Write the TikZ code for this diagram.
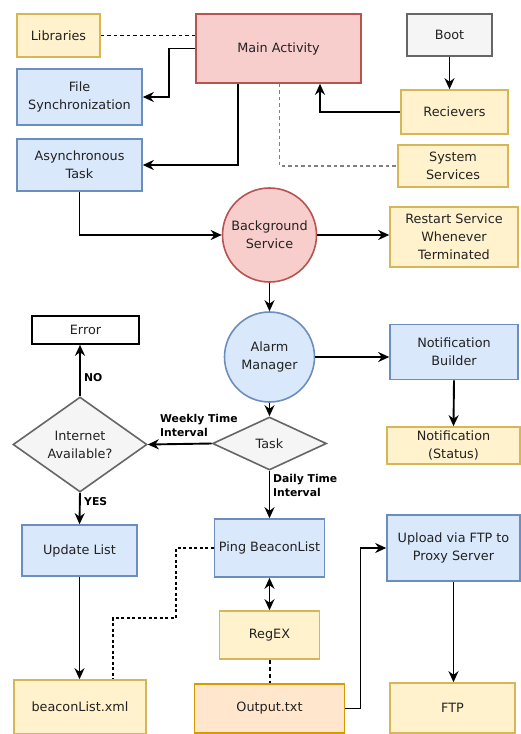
\documentclass[tikz,border=0pt]{standalone}
\usepackage{fontspec}
\setmainfont{DejaVu Sans}
\usetikzlibrary{arrows.meta,shapes.geometric}
\definecolor{ylwF}{HTML}{FFF2CC}\definecolor{ylwD}{HTML}{D6B656}
\definecolor{bluF}{HTML}{DAE8FC}\definecolor{bluD}{HTML}{6C8EBF}
\definecolor{redF}{HTML}{F8CECC}\definecolor{redD}{HTML}{B85450}
\definecolor{gryF}{HTML}{F5F5F5}\definecolor{gryD}{HTML}{666666}
\definecolor{orgF}{HTML}{FFE6CC}\definecolor{orgD}{HTML}{D79B00}
\definecolor{txt}{HTML}{222222}
\tikzset{
  base/.style={draw, line width=1.6pt, align=center, inner sep=0pt, text=txt, font=\fontsize{12.8}{18}\selectfont},
  ybox/.style={base, fill=ylwF, draw=ylwD},
  bbox/.style={base, fill=bluF, draw=bluD},
  rbox/.style={base, fill=redF, draw=redD},
  gbox/.style={base, fill=gryF, draw=gryD},
  obox/.style={base, fill=orgF, draw=orgD},
  wbox/.style={base, fill=white, draw=black},
  dia/.style={base, diamond, fill=gryF, draw=gryD},
  arr/.style={-{Stealth[length=11pt,width=10pt]}, line width=1.9pt},
  lbl/.style={font=\bfseries\fontsize{10.8}{14}\selectfont, align=left, inner sep=0pt},
}
\begin{document}
\begin{tikzpicture}[x=1pt,y=-1pt]
\useasboundingbox[fill=white] (0,0) rectangle (521,734);
% nodes
\node[ybox, minimum width=83, minimum height=43] (lib) at (58.5,35.5) {Libraries};
\node[rbox, minimum width=165, minimum height=69] (main) at (278.5,48.5) {Main Activity};
\node[gbox, minimum width=85, minimum height=42] (boot) at (449.5,35) {Boot};
\node[bbox, minimum width=125, minimum height=56] (fsync) at (79.5,97) {File\\Synchronization};
\node[ybox, minimum width=107, minimum height=44] (recv) at (454.5,112) {Recievers};
\node[bbox, minimum width=125, minimum height=52] (async) at (79.5,165) {Asynchronous\\Task};
\node[ybox, minimum width=110, minimum height=42] (sys) at (453,166) {System\\Services};
\node[rbox, circle, minimum size=94] (bg) at (269.5,235) {Background\\Service};
\node[ybox, minimum width=128, minimum height=60] (restart) at (454,237) {Restart Service\\Whenever\\Terminated};
\node[bbox, circle, minimum size=90] (alarm) at (269.5,357) {Alarm\\Manager};
\node[wbox, minimum width=107, minimum height=28] (error) at (85.5,330) {Error};
\node[bbox, minimum width=128, minimum height=55] (nbuild) at (454,352) {Notification\\Builder};
\node[dia, minimum width=114, minimum height=53] (task) at (269.5,443.5) {Task};
\node[dia, minimum width=134, minimum height=95] (internet) at (80,444.5) {Internet\\Available?};
\node[ybox, minimum width=133, minimum height=37] (nstatus) at (453.5,445.5) {Notification\\(Status)};
\node[bbox, minimum width=115, minimum height=51] (update) at (79.5,550.5) {Update List};
\node[bbox, minimum width=110, minimum height=58] (ping) at (269.5,548) {Ping BeaconList};
\node[bbox, minimum width=133, minimum height=66] (upload) at (453.5,548) {Upload via FTP to\\Proxy Server};
\node[ybox, minimum width=100, minimum height=48] (regex) at (269.5,635) {RegEX};
\node[ybox, minimum width=132, minimum height=54] (beacon) at (80,707) {beaconList.xml};
\node[obox, minimum width=150, minimum height=49] (output) at (269.5,708.5) {Output.txt};
\node[ybox, minimum width=125, minimum height=50] (ftp) at (452.5,708) {FTP};
% connectors
\draw[line width=1.3pt, dash pattern=on 3.5pt off 3pt] (lib.east) -- (lib.east -| main.west);
\draw[arr] (main.west) -- ++(-26,0) |- (fsync.east);
\draw[arr] ([xshift=-40.5pt]main.south) |- (async.east);
\draw[line width=1.5pt, gray, dash pattern=on 3.5pt off 3pt] ([xshift=1pt]main.south) |- (sys.west);
\draw[arr] (recv.west) -| ([xshift=41.5pt]main.south);
\draw[arr] (boot.south) -- (boot.south |- recv.north);
\draw[arr] (async.south) |- (bg.west);
\draw[arr] (bg.east) -- (bg.east -| restart.west);
\draw[arr] (bg.south) -- (alarm.north);
\draw[arr] (alarm.east) -- (alarm.east -| nbuild.west);
\draw[arr] (nbuild.south) -- (nstatus.north);
\draw[arr] (alarm.south) -- (task.north);
\draw[arr] (task.west) -- (internet.east);
\draw[arr] (task.south) -- (ping.north);
\draw[arr] (internet.north) -- (internet.north |- error.south);
\draw[arr] (internet.south) -- (update.north);
\draw[arr] (update.south) -- (update.south |- beacon.north);
\draw[line width=2.2pt, dash pattern=on 3pt off 2.5pt] (ping.west) -- ++(-38,0) -- ++(0,70) -| ([xshift=33pt]beacon.north);
\draw[{Stealth[length=11pt,width=10pt]}-{Stealth[length=11pt,width=10pt]}, line width=1.9pt] (ping.south) -- (regex.north);
\draw[line width=2pt, dash pattern=on 4pt off 3pt] (regex.south) -- (output.north);
\draw[arr, line width=1.5pt] (output.east) -- ++(15,0) |- (upload.west);
\draw[arr] (upload.south) -- (upload.south |- ftp.north);
% labels
\node[lbl, anchor=north west] (lweekly) at (160,414) {Weekly Time\\Interval};
\node[lbl, anchor=north west] (ldaily) at (273,474) {Daily Time\\Interval};
\node[lbl, anchor=north west] (lno) at (84,373) {NO};
\node[lbl, anchor=north west] (lyes) at (84,497) {YES};
\end{tikzpicture}
\end{document}
